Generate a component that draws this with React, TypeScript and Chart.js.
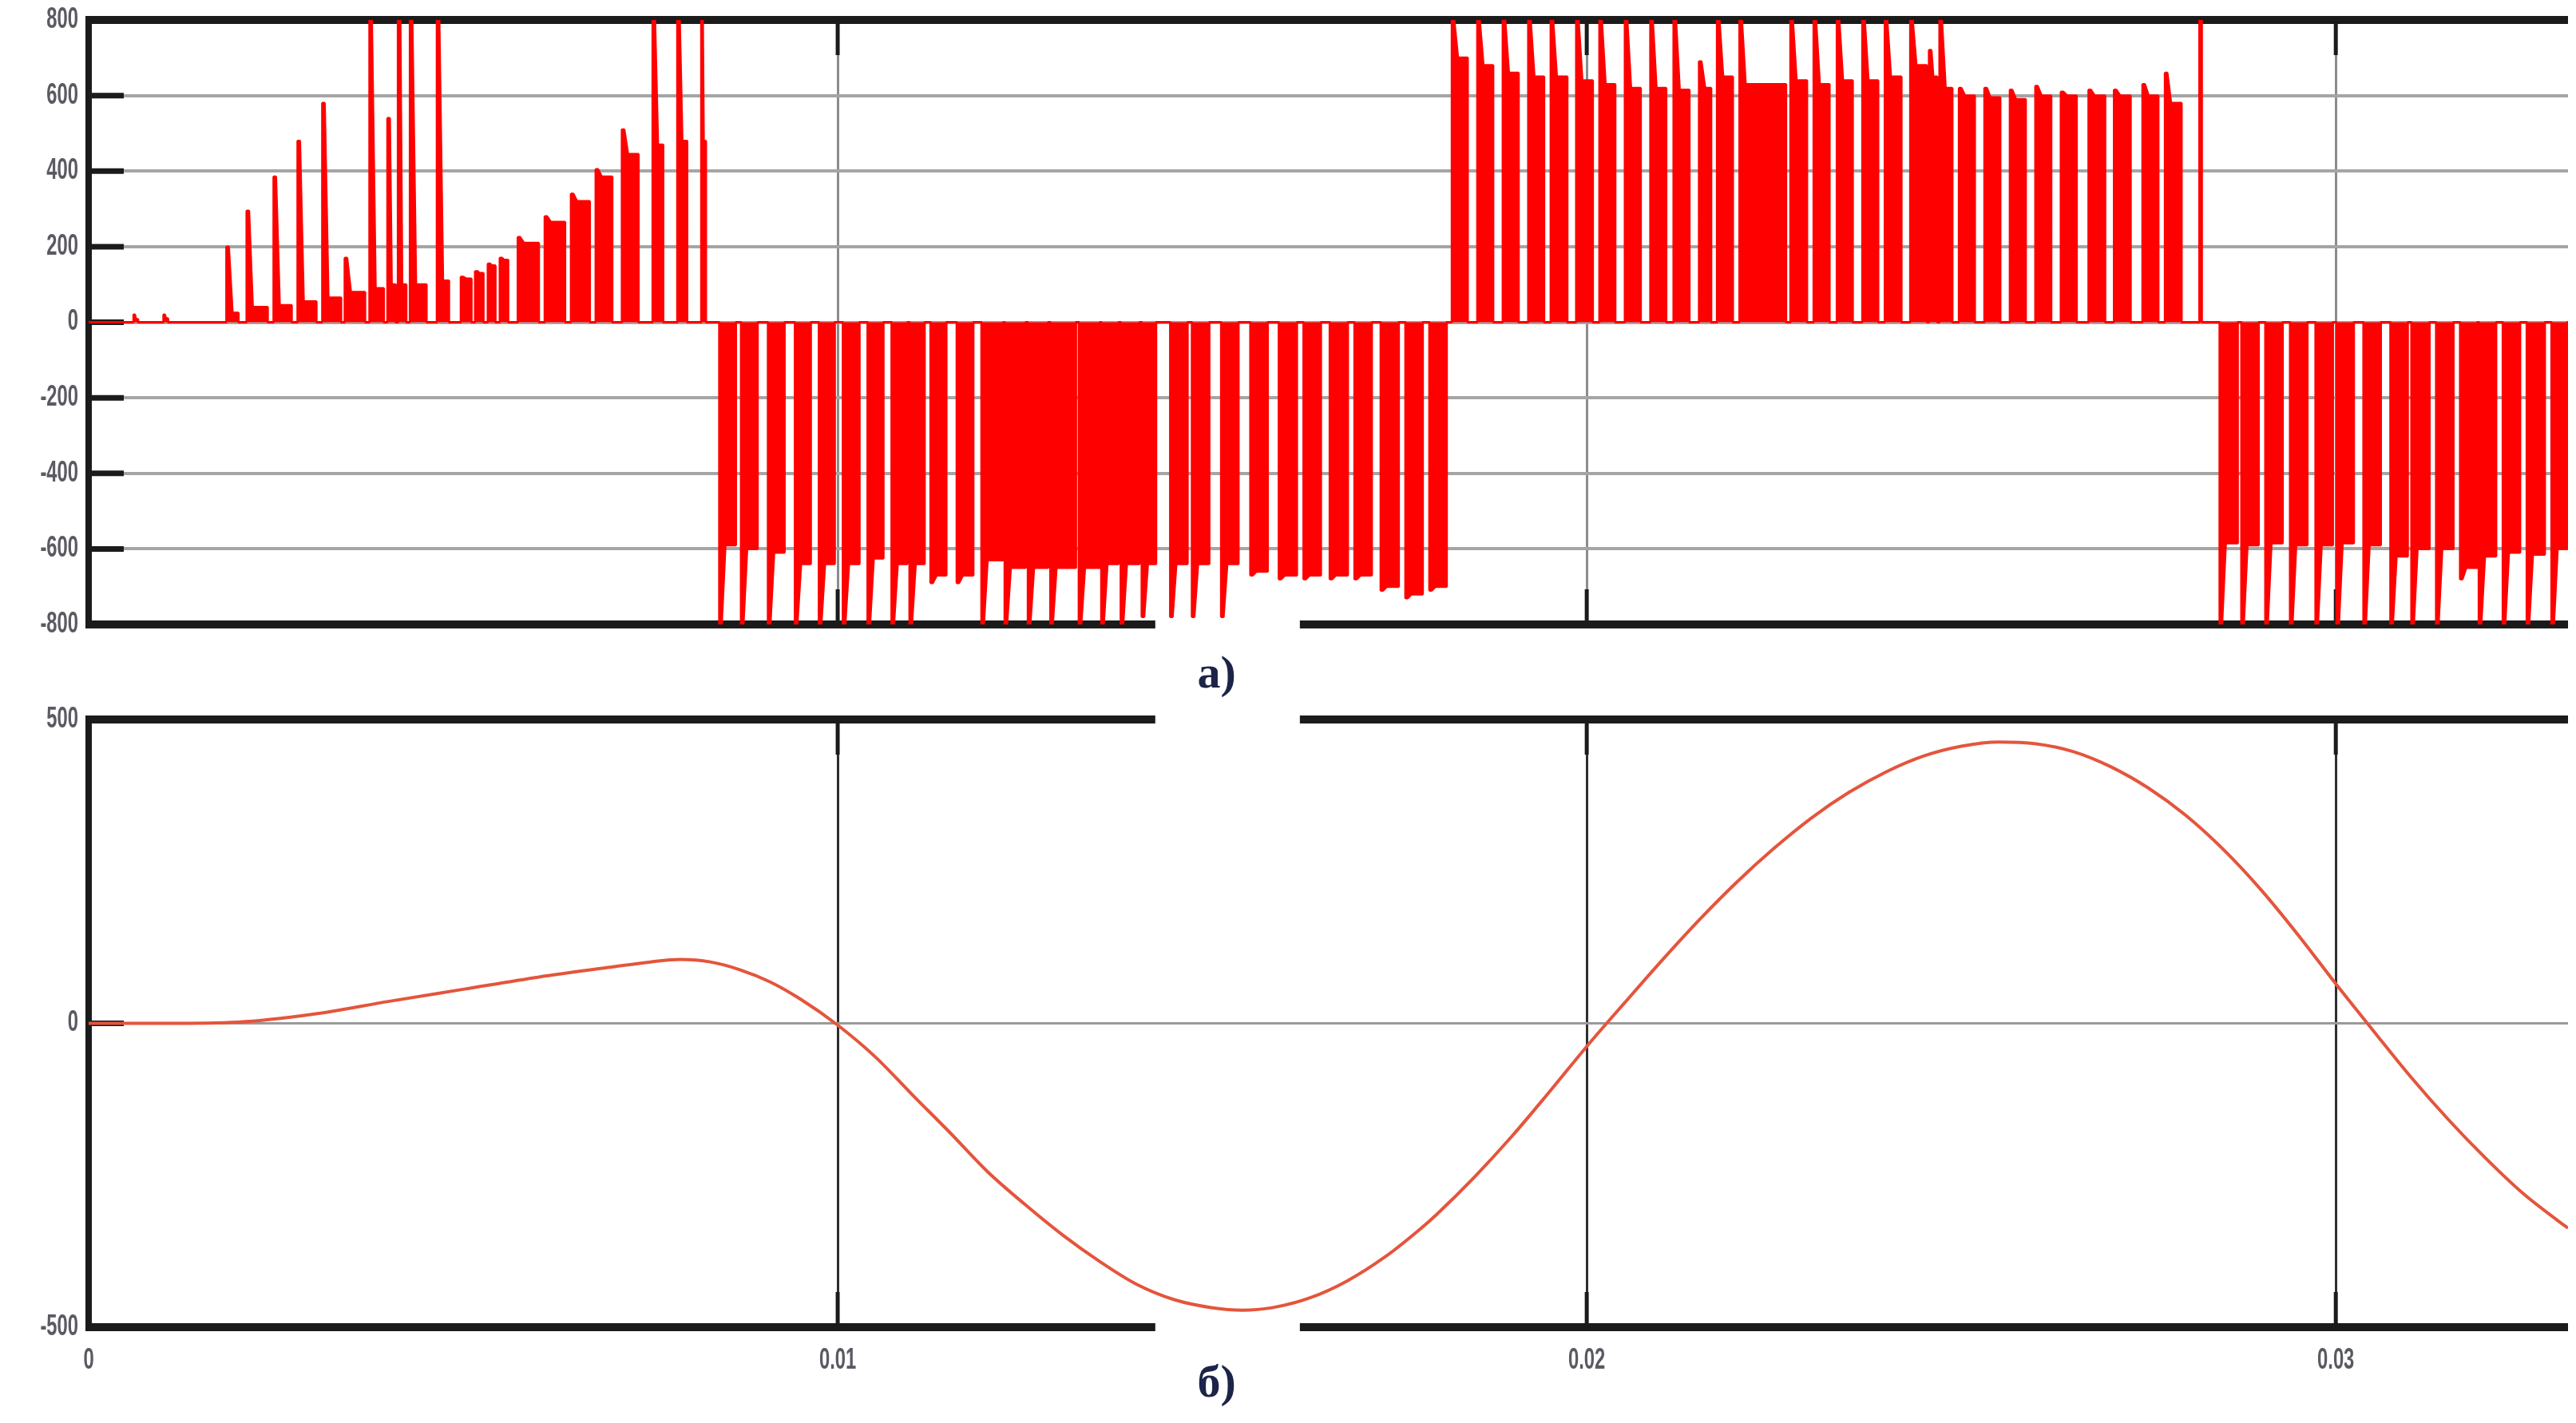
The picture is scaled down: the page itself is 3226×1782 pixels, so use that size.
import React, { useEffect, useRef } from "react";
import { Chart, registerables } from "chart.js";

Chart.register(...registerables);

// ---------- axes ----------
const T_MAX = 0.0331;
const X_TICKS = [0, 0.01, 0.02, 0.03];
const X_TICK_LABELS = ["0", "0.01", "0.02", "0.03"];
const V_TICKS = [-800, -600, -400, -200, 0, 200, 400, 600, 800];
const I_TICKS = [-500, 0, 500];

// caption cut-outs in the frame (in time units) and caption texts
const GAP = [0.01424, 0.01617];
const CAPTION_T = 0.01506;
const CAPTION_A = "а)";
const CAPTION_B = "б)";

// ---------- panel а): PWM voltage pulses ----------
const pulseStart = [
  0.0006, 0.001, 0.00184, 0.00211, 0.00247, 0.00279, 0.00312, 0.00342, 0.00375, 0.00399,
  0.00413, 0.00429, 0.00465, 0.00497, 0.00516, 0.00533, 0.00549, 0.00573, 0.00609, 0.00644,
  0.00677, 0.00712, 0.00753, 0.00786, 0.00818,
  0.00842, 0.00871, 0.00907, 0.00943, 0.00975, 0.01007, 0.0104, 0.01072, 0.01096, 0.01124,
  0.01159, 0.01192, 0.01223, 0.01254, 0.01284, 0.01322, 0.01352, 0.01378, 0.01406, 0.01444,
  0.01473, 0.01512, 0.01551, 0.01589, 0.01622, 0.01657, 0.0169, 0.01725, 0.01758, 0.0179,
  0.0182, 0.01854, 0.01888, 0.01922, 0.01952, 0.01986, 0.02017, 0.02051, 0.02085, 0.02116,
  0.0215, 0.02174, 0.02204, 0.02272, 0.02303, 0.02334, 0.02368, 0.02398, 0.02432, 0.02457,
  0.02471, 0.02497, 0.02531, 0.02565, 0.02599, 0.02633, 0.0267, 0.02704, 0.02742, 0.02772,
  0.02818,
  0.02845, 0.02874, 0.02906, 0.02939, 0.02973, 0.03001, 0.03037, 0.03073, 0.03101, 0.03134,
  0.03166, 0.03191, 0.03223, 0.03255, 0.03288,
];
const pulseEnd = [
  0.00066, 0.00106, 0.002, 0.00239, 0.00271, 0.00304, 0.00337, 0.00369, 0.00394, 0.0041,
  0.00424, 0.00451, 0.00481, 0.00511, 0.00527, 0.00543, 0.0056, 0.00601, 0.00636, 0.00669,
  0.00699, 0.00734, 0.00767, 0.00799, 0.00824,
  0.00864, 0.00893, 0.00929, 0.00964, 0.00996, 0.01029, 0.01061, 0.01093, 0.01116, 0.01145,
  0.01181, 0.01221, 0.01251, 0.01281, 0.01318, 0.0135, 0.01375, 0.01403, 0.01425, 0.01467,
  0.01496, 0.01535, 0.01574, 0.01613, 0.01645, 0.01681, 0.01713, 0.01749, 0.01781, 0.01813,
  0.01841, 0.01875, 0.01909, 0.01943, 0.01974, 0.02008, 0.02038, 0.02072, 0.02106, 0.02137,
  0.02166, 0.02195, 0.02266, 0.02294, 0.02324, 0.02355, 0.02389, 0.0242, 0.02454, 0.02468,
  0.02488, 0.02518, 0.02552, 0.02586, 0.0262, 0.02654, 0.02692, 0.02726, 0.02763, 0.02794,
  0.02821,
  0.02869, 0.02897, 0.02929, 0.02962, 0.02996, 0.03024, 0.0306, 0.03096, 0.03125, 0.03157,
  0.03189, 0.03214, 0.03246, 0.03279, 0.03309,
];
const pulseLevel = [
  8, 10, 25, 40, 45, 55, 65, 80, 90, 100,
  100, 100, 110, 115, 130, 150, 165, 210, 265, 320,
  385, 445, 470, 480, 480,
  -590, -600, -610, -640, -640, -640, -625, -640, -640, -670,
  -670, -630, -650, -650, -650, -650, -640, -640, -640, -640,
  -640, -640, -660, -670, -670, -670, -670, -700, -720, -700,
  700, 680, 660, 650, 650, 640, 630, 620, 620, 615,
  620, 650, 630, 640, 630, 640, 640, 650, 680, 650,
  620, 600, 595, 590, 600, 600, 600, 600, 600, 580,
  800,
  -585, -590, -585, -590, -590, -585, -590, -620, -600, -600,
  -650, -620, -610, -615, -600,
];
const pulsePeak = [
  20, 20, 200, 295, 385, 480, 580, 170, 800, 540,
  800, 800, 800, 120, 135, 155, 170, 225, 280, 340,
  405, 510, 800, 800, 800,
  -800, -800, -800, -800, -800, -800, -800, -800, -800, -690,
  -690, -800, -800, -800, -800, -800, -800, -800, -780, -780,
  -780, -780, -670, -680, -680, -680, -680, -710, -730, -710,
  800, 800, 800, 800, 800, 800, 800, 800, 800, 800,
  690, 800, 800, 800, 800, 800, 800, 800, 800, 720,
  800, 620, 620, 615, 625, 610, 615, 615, 630, 660,
  800,
  -800, -800, -800, -800, -800, -800, -800, -800, -800, -800,
  -680, -800, -800, -800, -800,
];

// ---------- panel б): current ----------
const currentT = [
  0, 0.001, 0.002, 0.003, 0.004, 0.005, 0.006, 0.007, 0.0075, 0.0079,
  0.0083, 0.0087, 0.0091, 0.0095, 0.01, 0.0105, 0.011, 0.0115, 0.012, 0.0125,
  0.013, 0.0135, 0.014, 0.0145, 0.015, 0.0154, 0.0158, 0.0163, 0.0168, 0.0173,
  0.0178, 0.018, 0.0185, 0.019, 0.0195, 0.02, 0.0205, 0.021, 0.0215, 0.022, 0.0225,
  0.023, 0.0235, 0.024, 0.0245, 0.025, 0.0255, 0.026, 0.0265, 0.027, 0.0275,
  0.028, 0.0285, 0.029, 0.0295, 0.03, 0.0305, 0.031, 0.0315, 0.032, 0.0325,
  0.033, 0.0331,
];
const currentI = [
  0, 0, 2, 15, 36, 56, 76, 93, 101, 105,
  101, 88, 68, 40, -3, -55, -118, -180, -244, -298,
  -348, -392, -430, -455, -468, -472, -468, -452, -424, -385,
  -336, -314, -253, -186, -113, -38, 33, 103, 170, 232, 288,
  338, 380, 414, 440, 456, 463, 460, 447, 422, 387,
  342, 286, 220, 145, 65, -12, -88, -158, -222, -280,
  -328, -337,
];

// ---------- styles ----------
const LABEL_FONT = "bold 36px 'Liberation Sans', Arial, sans-serif";
const LABEL_SQUEEZE = 0.66;
const TICK_COLOR = "#5a5a62";
const FRAME_COLOR = "#1b1b1b";
const CLEAR = "rgba(0,0,0,0)";

function buildVoltage() {
  const SPIKE_W = 0.00003;
  const DECAY_W = 0.00008;
  const pts: { x: number; y: number }[] = [{ x: 0, y: 0 }];
  for (let i = 0; i < pulseStart.length; i++) {
    const s = pulseStart[i];
    const e = pulseEnd[i];
    const w = e - s;
    const a = s + Math.min(SPIKE_W, w * 0.3);
    const b = s + Math.min(DECAY_W, w * 0.5);
    pts.push(
      { x: s, y: 0 },
      { x: s, y: pulsePeak[i] },
      { x: a, y: pulsePeak[i] },
      { x: b, y: pulseLevel[i] },
      { x: e, y: pulseLevel[i] },
      { x: e, y: 0 }
    );
  }
  pts.push({ x: T_MAX, y: 0 });
  return pts;
}

function squeezedText(
  ctx: CanvasRenderingContext2D,
  text: string,
  x: number,
  y: number,
  align: CanvasTextAlign
) {
  ctx.save();
  ctx.translate(x, y);
  ctx.scale(LABEL_SQUEEZE, 1);
  ctx.textAlign = align;
  ctx.fillText(text, 0, 0);
  ctx.restore();
}

function makeFrame(opts: {
  yTicks: number[];
  yMarks: number[];
  xLabels: boolean;
  topGap: boolean;
  bottomGap: boolean;
  caption: string;
  captionDy: number;
}) {
  return {
    id: "frame",
    beforeDatasetsDraw(chart: any) {
      const { ctx, chartArea: a } = chart;
      const xs = chart.scales.x;
      const ys = chart.scales.y;
      const g0 = xs.getPixelForValue(GAP[0]);
      const g1 = xs.getPixelForValue(GAP[1]);
      ctx.save();
      ctx.lineCap = "butt";
      ctx.strokeStyle = FRAME_COLOR;
      const seg = (x0: number, y0: number, x1: number, y1: number) => {
        ctx.beginPath();
        ctx.moveTo(x0, y0);
        ctx.lineTo(x1, y1);
        ctx.stroke();
      };
      ctx.lineWidth = 7;
      for (const v of opts.yMarks) {
        const py = ys.getPixelForValue(v);
        seg(a.left, py, a.left + 44, py);
      }
      ctx.lineWidth = 5;
      for (const v of X_TICKS) {
        if (v === 0) continue;
        const px = xs.getPixelForValue(v);
        seg(px, a.bottom, px, a.bottom - 44);
        seg(px, a.top, px, a.top + 44);
      }
      ctx.lineWidth = 10;
      const hline = (py: number, gap: boolean) => {
        if (gap) {
          seg(a.left - 4, py, g0, py);
          seg(g1, py, a.right, py);
        } else {
          seg(a.left - 4, py, a.right, py);
        }
      };
      hline(a.top, opts.topGap);
      hline(a.bottom, opts.bottomGap);
      ctx.lineWidth = 8;
      seg(a.left, a.top - 4, a.left, a.bottom + 4);
      ctx.restore();
    },
    afterDraw(chart: any) {
      const { ctx, chartArea: a } = chart;
      const xs = chart.scales.x;
      const ys = chart.scales.y;
      ctx.save();
      ctx.font = LABEL_FONT;
      ctx.fillStyle = TICK_COLOR;
      ctx.textBaseline = "middle";
      for (const v of opts.yTicks) {
        squeezedText(ctx, String(v), a.left - 13, ys.getPixelForValue(v), "right");
      }
      if (opts.xLabels) {
        X_TICKS.forEach((v, i) => {
          squeezedText(ctx, X_TICK_LABELS[i], xs.getPixelForValue(v), a.bottom + 42, "center");
        });
      }
      ctx.font = "bold 58px 'Liberation Serif', 'DejaVu Serif', serif";
      ctx.fillStyle = "#1c2448";
      ctx.textAlign = "center";
      ctx.textBaseline = "middle";
      ctx.fillText(opts.caption, xs.getPixelForValue(CAPTION_T), a.bottom + opts.captionDy);
      ctx.restore();
    },
  };
}

function baseScales(yMin: number, yMax: number, yTicks: number[], xHeight: number, xGrid: string, yGrid: string, yGridW: number) {
  return {
    x: {
      type: "linear",
      min: 0,
      max: T_MAX,
      afterBuildTicks: (s: any) => {
        s.ticks = X_TICKS.map((v) => ({ value: v }));
      },
      afterFit: (s: any) => {
        s.height = xHeight;
      },
      ticks: { display: false },
      grid: {
        color: (c: any) => (c.tick && c.tick.value === 0 ? CLEAR : xGrid),
        lineWidth: 3,
        drawTicks: false,
      },
      border: { display: false },
    },
    y: {
      type: "linear",
      min: yMin,
      max: yMax,
      afterBuildTicks: (s: any) => {
        s.ticks = yTicks.map((v) => ({ value: v }));
      },
      afterFit: (s: any) => {
        s.width = 103;
      },
      ticks: { display: false },
      grid: {
        color: (c: any) =>
          c.tick && (c.tick.value === yMin || c.tick.value === yMax) ? CLEAR : yGrid,
        lineWidth: yGridW,
        drawTicks: false,
      },
      border: { display: false },
    },
  };
}

export default function App() {
  const topRef = useRef<HTMLCanvasElement>(null);
  const botRef = useRef<HTMLCanvasElement>(null);

  useEffect(() => {
    const top = new Chart(topRef.current as HTMLCanvasElement, {
      type: "line",
      data: {
        datasets: [
          {
            data: buildVoltage(),
            borderColor: "#ff0000",
            backgroundColor: "#ff0000",
            borderWidth: 3,
            fill: "origin",
            pointRadius: 0,
            tension: 0,
            borderJoinStyle: "bevel",
          },
        ],
      },
      options: {
        animation: false,
        responsive: false,
        devicePixelRatio: 1,
        events: [],
        layout: { padding: { top: 17, right: 2, left: 0, bottom: 0 } },
        plugins: { legend: { display: false }, tooltip: { enabled: false } },
        scales: baseScales(-800, 800, V_TICKS, 98, "#8c8c8c", "#a5a5a5", 4),
      },
      plugins: [
        makeFrame({
          yTicks: V_TICKS,
          yMarks: [-600, -400, -200, 0, 200, 400, 600],
          xLabels: false,
          topGap: false,
          bottomGap: true,
          caption: CAPTION_A,
          captionDy: 64,
        }),
      ],
    } as any);

    const bot = new Chart(botRef.current as HTMLCanvasElement, {
      type: "line",
      data: {
        datasets: [
          {
            data: currentT.map((t, i) => ({ x: t, y: currentI[i] })),
            borderColor: "#e4553c",
            borderWidth: 4,
            fill: false,
            pointRadius: 0,
            cubicInterpolationMode: "monotone",
          },
        ],
      },
      options: {
        animation: false,
        responsive: false,
        devicePixelRatio: 1,
        events: [],
        layout: { padding: { top: 41, right: 2, left: 0, bottom: 0 } },
        plugins: { legend: { display: false }, tooltip: { enabled: false } },
        scales: baseScales(-500, 500, I_TICKS, 112, "#2e2e2e", "#9a9a9a", 3),
      },
      plugins: [
        makeFrame({
          yTicks: I_TICKS,
          yMarks: [0],
          xLabels: true,
          topGap: true,
          bottomGap: true,
          caption: CAPTION_B,
          captionDy: 72,
        }),
      ],
    } as any);

    return () => {
      top.destroy();
      bot.destroy();
    };
  }, []);

  return (
    <div
      style={{
        position: "relative",
        width: 3210,
        height: 1766,
        overflow: "hidden",
        background: "#ffffff",
      }}
    >
      <canvas
        ref={topRef}
        width={3210}
        height={872}
        style={{ position: "absolute", left: 0, top: 0 }}
      />
      <canvas
        ref={botRef}
        width={3210}
        height={914}
        style={{ position: "absolute", left: 0, top: 852 }}
      />
    </div>
  );
}
